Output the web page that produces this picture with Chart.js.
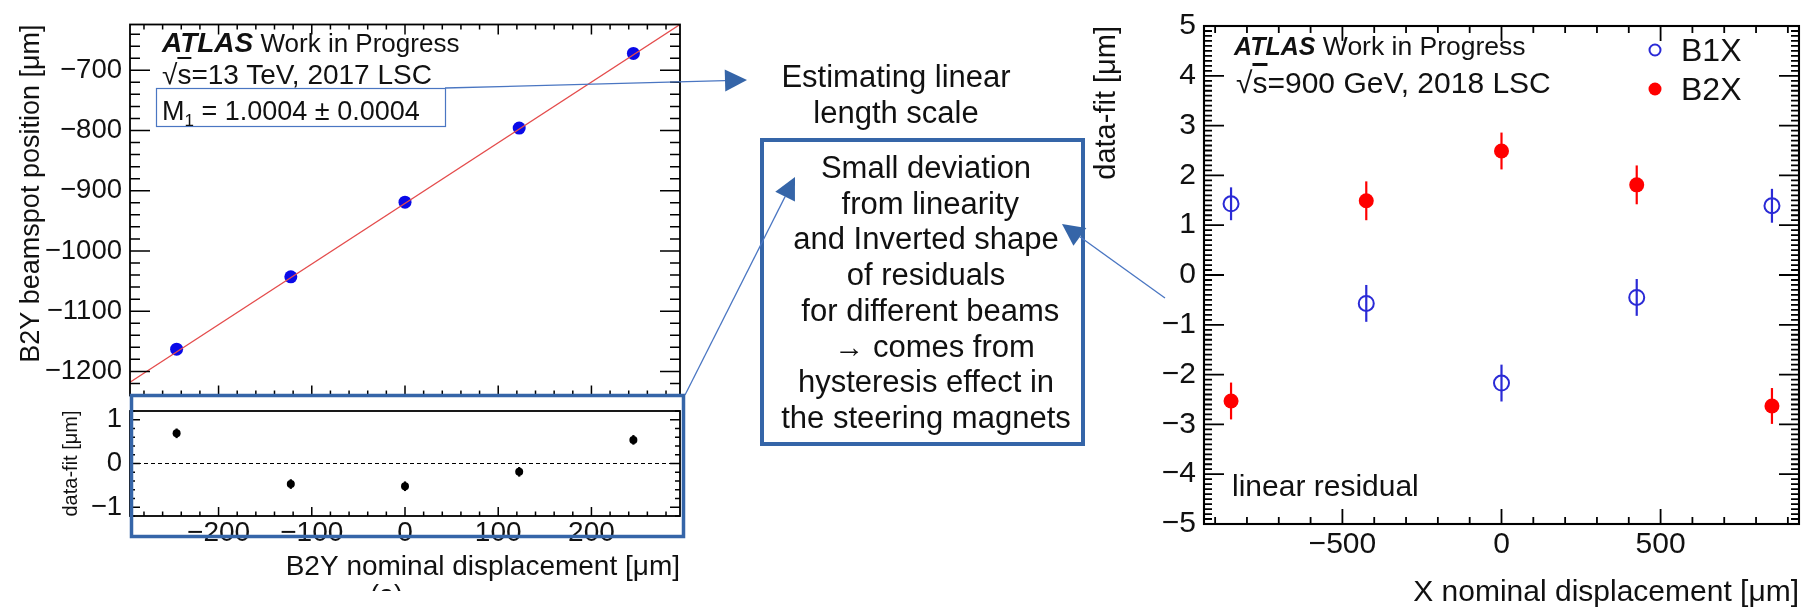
<!DOCTYPE html>
<html>
<head>
<meta charset="utf-8">
<script src="https://cdn.jsdelivr.net/npm/chart.js@4.4.1/dist/chart.umd.min.js"></script>
<style>
  html, body { margin: 0; padding: 0; background: #fff; }
  #wrap { position: relative; width: 1811px; height: 614px; overflow: hidden; background: #fff;
          font-family: 'Liberation Sans', Arial, sans-serif; color: #111; }
  .pane { position: absolute; }
  .txt { position: absolute; white-space: pre; }
  .atlas { font-weight: bold; font-style: italic; }
  .ov { text-decoration: overline; }
  svg { position: absolute; left: 0; top: 0; pointer-events: none; }
</style>
</head>
<body>
<div id="wrap">
  <div class="pane" style="left:0;top:0"><canvas id="mainL" width="700" height="420"></canvas></div>
  <div class="pane" style="left:0;top:380px"><canvas id="ratioL" width="700" height="234"></canvas></div>
  <div class="pane" style="left:1080px;top:0"><canvas id="rightX" width="731" height="614"></canvas></div>

  <svg id="ann" width="1811" height="614"></svg>

  <!-- left plot labels -->
  <div class="txt" style="left:162px;top:28px;font-size:26px;line-height:30px"><span class="atlas" style="font-size:28px">ATLAS</span> Work in Progress</div>
  <div class="txt" style="left:162px;top:59px;font-size:28px;line-height:32px">√<span class="ov">s</span>=13 TeV, 2017 LSC</div>
  <div class="txt" style="left:162px;top:95px;font-size:27px;line-height:32px">M<sub style="font-size:17px">1</sub> = 1.0004 ± 0.0004</div>
  <div style="position:absolute;left:370px;top:580px;height:11px;overflow:hidden;font-size:27px;line-height:30px">(a)</div>

  <!-- middle notes -->
  <div class="txt" style="left:696px;top:59px;width:400px;text-align:center;font-size:31px;line-height:36px">Estimating linear
length scale</div>
  <div class="txt" style="left:726px;top:150px;width:400px;text-align:center;font-size:31px;line-height:35.7px">Small deviation
 from linearity
and Inverted shape
of residuals
 for different beams
  <span style="font-size:30px">→</span> comes from
hysteresis effect in
the steering magnets</div>

  <!-- right plot labels -->
  <div class="txt" style="left:1234px;top:31px;font-size:26.5px;line-height:30px"><span class="atlas" style="font-size:25px">ATLAS</span> Work in Progress</div>
  <div class="txt" style="left:1236px;top:66px;font-size:30px;line-height:34px">√<span class="ov">s</span>=900 GeV, 2018 LSC</div>
  <div class="txt" style="left:1681px;top:32px;font-size:32px;line-height:36px">B1X</div>
  <div class="txt" style="left:1681px;top:71px;font-size:32px;line-height:36px">B2X</div>
  <div class="txt" style="left:1232px;top:469px;font-size:30px;line-height:34px">linear residual</div>
</div>

<script>
// ---- left plot: B2Y scan, 2017 LSC ----
const b2yNominal = [-245, -122.5, 0, 122.5, 245];
const b2yBeamspot = [-1163, -1043, -919, -796, -672];
const fitNominal = [-295, 295];
const fitBeamspot = [-1218, -624];
const b2yResidual = [0.69, -0.47, -0.52, -0.19, 0.54];
const b2yResidualErr = [0.11, 0.11, 0.11, 0.11, 0.11];
const mainYTicks = [-1200, -1100, -1000, -900, -800, -700];
const ratioYTicks = [-1, 0, 1];
const leftXTicks = [-200, -100, 0, 100, 200];

// ---- right plot: X scan, 2018 LSC ----
const xNominal = [-850, -425, 0, 425, 850];
const b1xResidual = [1.43, -0.57, -2.17, -0.45, 1.39];
const b1xErr = [0.33, 0.37, 0.37, 0.37, 0.34];
const b2xResidual = [-2.53, 1.49, 2.49, 1.81, -2.63];
const b2xErr = [0.37, 0.39, 0.37, 0.39, 0.36];
const rightYTicks = [-5, -4, -3, -2, -1, 0, 1, 2, 3, 4, 5];
const rightXTicks = [-500, 0, 500];

const FONT = "'Liberation Sans', Arial, sans-serif";
Chart.defaults.font.family = FONT;
Chart.defaults.color = '#111';

const pts = (xs, ys) => xs.map((x, i) => ({x: x, y: ys[i]}));
const fmt = v => (v < 0 ? '\u2212' + Math.abs(v) : String(v));
const fixTicks = list => scale => { scale.ticks = list.map(v => ({value: v})); };

// ROOT-like frame: box, inward ticks on all sides, dashed zero line, error bars
const rootFrame = {
  id: 'rootFrame',
  beforeDatasetsDraw(chart, args, o) {
    const {ctx, chartArea: a, scales: {y}} = chart;
    ctx.save();
    if (o.zeroLine) {
      const py = y.getPixelForValue(0);
      ctx.strokeStyle = '#000';
      ctx.lineWidth = 1;
      ctx.setLineDash([4, 3]);
      ctx.beginPath(); ctx.moveTo(a.left, py); ctx.lineTo(a.right, py); ctx.stroke();
      ctx.setLineDash([]);
    }
    (o.errors || []).forEach(e => {
      const meta = chart.getDatasetMeta(e.ds);
      const vals = chart.data.datasets[e.ds].data;
      ctx.strokeStyle = e.color;
      ctx.lineWidth = e.width;
      meta.data.forEach((p, i) => {
        ctx.beginPath();
        ctx.moveTo(p.x, y.getPixelForValue(vals[i].y + e.err[i]));
        ctx.lineTo(p.x, y.getPixelForValue(vals[i].y - e.err[i]));
        ctx.stroke();
      });
    });
    ctx.restore();
  },
  afterDatasetsDraw(chart, args, o) {
    const {ctx, chartArea: a, scales: {x, y}} = chart;
    const marks = (scale, t) => {
      const out = [];
      const first = Math.ceil(scale.min / t.minor - 1e-6);
      for (let k = first; k * t.minor <= scale.max + 1e-9; k++) {
        const v = k * t.minor;
        const major = Math.abs(v / t.major - Math.round(v / t.major)) < 1e-6;
        out.push({p: scale.getPixelForValue(v), len: major ? t.majorLen : t.minorLen});
      }
      return out;
    };
    ctx.save();
    ctx.strokeStyle = '#000';
    ctx.lineWidth = o.lineWidth;
    ctx.beginPath();
    marks(x, o.x).forEach(m => {
      if (o.x.sides.includes('bottom')) { ctx.moveTo(m.p, a.bottom); ctx.lineTo(m.p, a.bottom - m.len); }
      if (o.x.sides.includes('top')) { ctx.moveTo(m.p, a.top); ctx.lineTo(m.p, a.top + m.len); }
    });
    marks(y, o.y).forEach(m => {
      if (o.y.sides.includes('left')) { ctx.moveTo(a.left, m.p); ctx.lineTo(a.left + m.len, m.p); }
      if (o.y.sides.includes('right')) { ctx.moveTo(a.right, m.p); ctx.lineTo(a.right - m.len, m.p); }
    });
    ctx.stroke();
    ctx.lineWidth = o.lineWidth + 0.3;
    ctx.strokeRect(a.left, a.top, a.right - a.left, a.bottom - a.top);
    ctx.restore();
  }
};

const noGrid = {display: false, drawTicks: false};
const quiet = {legend: {display: false}, tooltip: {enabled: false}};

// main panel
new Chart(document.getElementById('mainL'), {
  type: 'scatter',
  data: {
    datasets: [
      {data: pts(fitNominal, fitBeamspot), showLine: true, borderColor: '#e44c4c', borderWidth: 1.3, pointRadius: 0},
      {data: pts(b2yNominal, b2yBeamspot), pointRadius: 6.5, backgroundColor: '#0a0ae8', borderColor: '#0a0ae8', borderWidth: 0}
    ]
  },
  options: {
    responsive: false, animation: false,
    layout: {autoPadding: false, padding: {left: 0, right: 20, top: 12, bottom: 9}},
    plugins: Object.assign({}, quiet, {
      rootFrame: {
        lineWidth: 1.5,
        x: {major: 100, minor: 20, majorLen: 10, minorLen: 5, sides: ['top', 'bottom']},
        y: {major: 100, minor: 20, majorLen: 20, minorLen: 10, sides: ['left', 'right']}
      }
    }),
    scales: {
      x: {type: 'linear', display: false, min: -295, max: 295},
      y: {
        min: -1240, max: -624,
        afterBuildTicks: fixTicks(mainYTicks),
        afterFit: s => { s.width = 130; },
        grid: noGrid, border: {display: false},
        ticks: {font: {size: 27.5}, color: '#111', padding: 8, callback: fmt},
        title: {display: true, text: 'B2Y beamspot position [\u03bcm]', align: 'end',
                font: {size: 27}, color: '#111', padding: {top: 15, bottom: 0}}
      }
    }
  },
  plugins: [rootFrame]
});

// residual panel
new Chart(document.getElementById('ratioL'), {
  type: 'scatter',
  data: {
    datasets: [
      {data: pts(b2yNominal, b2yResidual), pointRadius: 4, backgroundColor: '#000', borderColor: '#000', borderWidth: 0}
    ]
  },
  options: {
    responsive: false, animation: false,
    layout: {autoPadding: false, padding: {left: 0, right: 20, top: 31, bottom: 20}},
    plugins: Object.assign({}, quiet, {
      rootFrame: {
        lineWidth: 1.5, zeroLine: true,
        errors: [{ds: 0, err: b2yResidualErr, color: '#000', width: 2.2}],
        x: {major: 100, minor: 20, majorLen: 9, minorLen: 4.5, sides: ['bottom']},
        y: {major: 1, minor: 0.2, majorLen: 10, minorLen: 5, sides: ['left', 'right']}
      }
    }),
    scales: {
      x: {
        type: 'linear', min: -295, max: 295, position: 'bottom',
        afterBuildTicks: fixTicks(leftXTicks),
        afterFit: s => { s.height = 78; },
        grid: noGrid, border: {display: false},
        ticks: {font: {size: 28}, color: '#111', padding: 0, maxRotation: 0, autoSkip: false, callback: fmt},
        title: {display: true, text: 'B2Y nominal displacement [\u03bcm]', align: 'end',
                font: {size: 28}, color: '#111', padding: {top: 0, bottom: 10}}
      },
      y: {
        min: -1.2, max: 1.2,
        afterBuildTicks: fixTicks(ratioYTicks),
        afterFit: s => { s.width = 130; },
        grid: noGrid, border: {display: false},
        ticks: {font: {size: 27.5}, color: '#111', padding: 8, callback: fmt},
        title: {display: true, text: 'data-fit [\u03bcm]', align: 'center',
                font: {size: 20}, color: '#111', padding: {top: 59, bottom: 0}}
      }
    }
  },
  plugins: [rootFrame]
});

// right plot
new Chart(document.getElementById('rightX'), {
  type: 'scatter',
  data: {
    datasets: [
      {label: 'B1X', data: pts(xNominal, b1xResidual), pointRadius: 7.5, pointBorderWidth: 2,
       backgroundColor: 'rgba(0,0,0,0)', borderColor: '#2a2ad6'},
      {label: 'B2X', data: pts(xNominal, b2xResidual), pointRadius: 7.5, pointBorderWidth: 0,
       backgroundColor: '#ff0000', borderColor: '#ff0000'}
    ]
  },
  options: {
    responsive: false, animation: false,
    layout: {autoPadding: false, padding: {left: 0, right: 12, top: 15, bottom: 0}},
    plugins: Object.assign({}, quiet, {
      rootFrame: {
        lineWidth: 1.8,
        errors: [
          {ds: 0, err: b1xErr, color: '#2a2ad6', width: 2.2},
          {ds: 1, err: b2xErr, color: '#ff0000', width: 2.2}
        ],
        x: {major: 500, minor: 100, majorLen: 15, minorLen: 7, sides: ['top', 'bottom']},
        y: {major: 1, minor: 0.1, majorLen: 20, minorLen: 8, sides: ['left', 'right']}
      }
    }),
    scales: {
      x: {
        type: 'linear', min: -935, max: 935,
        afterBuildTicks: fixTicks(rightXTicks),
        afterFit: s => { s.height = 90; },
        grid: noGrid, border: {display: false},
        ticks: {font: {size: 30}, color: '#111', padding: 3, maxRotation: 0, autoSkip: false, callback: fmt},
        title: {display: true, text: 'X nominal displacement [\u03bcm]', align: 'end',
                font: {size: 30}, color: '#111', padding: {top: 0, bottom: 3}}
      },
      y: {
        min: -5, max: 5,
        afterBuildTicks: fixTicks(rightYTicks),
        afterFit: s => { s.width = 124; },
        grid: noGrid, border: {display: false},
        ticks: {font: {size: 30}, color: '#111', padding: 8, callback: fmt},
        title: {display: true, text: 'data-fit [\u03bcm]', align: 'end',
                font: {size: 29}, color: '#111', padding: {top: 10, bottom: 0}}
      }
    }
  },
  plugins: [rootFrame]
});

// annotation boxes and arrows
const NS = 'http://www.w3.org/2000/svg';
const svg = document.getElementById('ann');
function el(tag, attrs) {
  const e = document.createElementNS(NS, tag);
  for (const k in attrs) e.setAttribute(k, attrs[k]);
  svg.appendChild(e);
  return e;
}
function arrow(x1, y1, x2, y2) {
  const L = Math.hypot(x2 - x1, y2 - y1), ux = (x2 - x1) / L, uy = (y2 - y1) / L;
  const bx = x2 - ux * 22, by = y2 - uy * 22;
  el('line', {x1: x1, y1: y1, x2: bx, y2: by, stroke: '#4a76c2', 'stroke-width': 1.3});
  el('polygon', {points: [x2, y2, bx - uy * 11, by + ux * 11, bx + uy * 11, by - ux * 11].join(' '), fill: '#3565a8'});
}
el('rect', {x: 156.5, y: 88.5, width: 289, height: 38, fill: 'none', stroke: '#4a76c2', 'stroke-width': 1.2});
el('rect', {x: 131.5, y: 395.5, width: 552, height: 141, fill: 'none', stroke: '#3565a8', 'stroke-width': 3.5});
el('rect', {x: 762, y: 140, width: 321, height: 304, fill: 'none', stroke: '#3565a8', 'stroke-width': 4});
arrow(445, 88, 747, 80);
arrow(685, 395, 795, 177);
arrow(1165, 298, 1062, 224);
// legend markers
el('circle', {cx: 1655, cy: 50, r: 5.5, fill: 'none', stroke: '#2a2ad6', 'stroke-width': 2});
el('circle', {cx: 1655, cy: 89, r: 6.5, fill: '#ff0000'});
</script>
</body>
</html>
